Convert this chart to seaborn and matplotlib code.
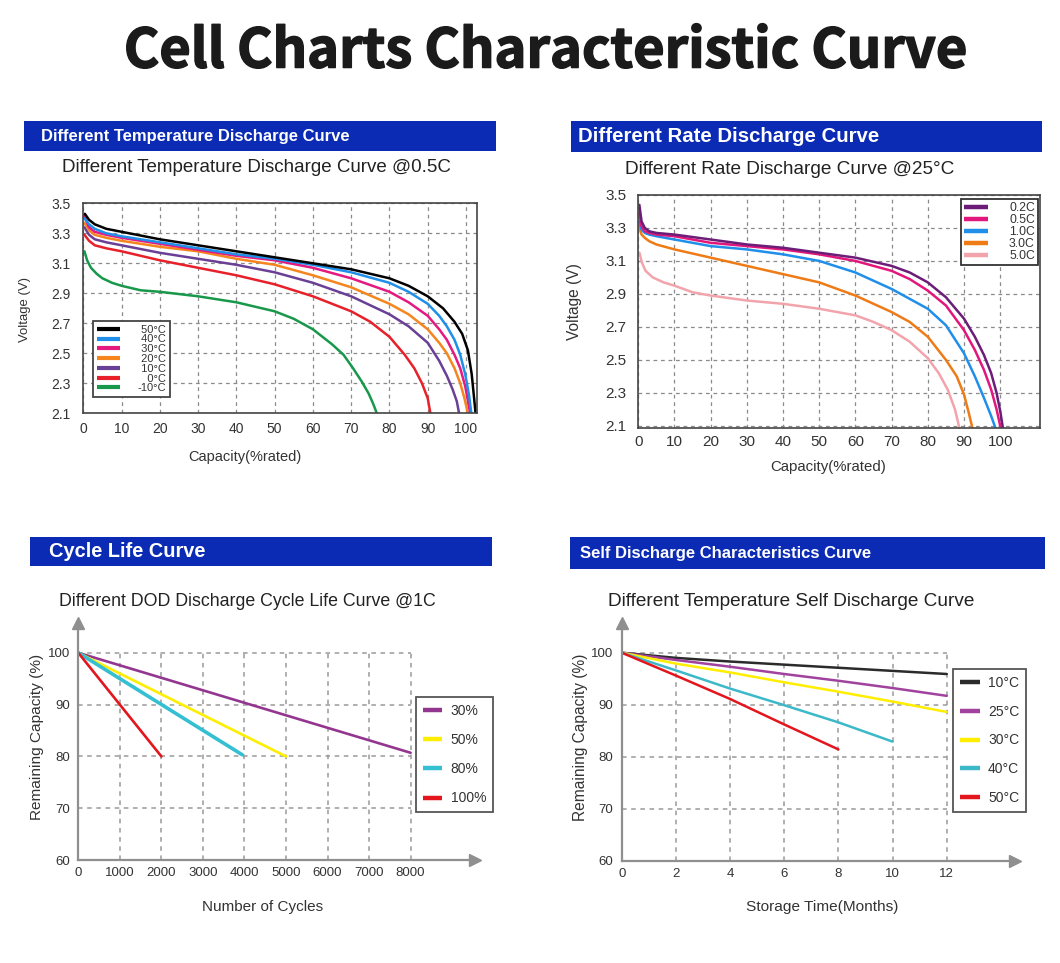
import matplotlib
matplotlib.use("Agg")
import matplotlib.pyplot as plt
import matplotlib.patheffects as pe
import seaborn as sns
from matplotlib.patches import Rectangle
from matplotlib.lines import Line2D

# ------------------------------------------------------------------ data
MAIN_TITLE = "Cell Charts Characteristic Curve"
PANEL_HEADERS = ["Different Temperature Discharge Curve", "Different Rate Discharge Curve",
                 "Cycle Life Curve", "Self Discharge Characteristics Curve"]
PANEL_TITLES = ["Different Temperature Discharge Curve @0.5C", "Different Rate Discharge Curve @25°C",
                "Different DOD Discharge Cycle Life Curve @1C", "Different Temperature Self Discharge Curve"]

# Chart 1: different temperature discharge curve @0.5C  (capacity %, voltage V)
TEMP_LABELS = ["50°C", "40°C", "30°C", "20°C", "10°C", "0°C", "-10°C"]
CAP_50C = [0.4, 1.5, 3, 6, 10, 20, 30, 40, 50, 60, 70, 80, 85, 90, 94, 97, 99, 100.5, 101.5, 102.2, 102.5]
V_50C = [3.43, 3.39, 3.36, 3.33, 3.31, 3.26, 3.22, 3.18, 3.14, 3.10, 3.06, 3.00, 2.95, 2.88, 2.80, 2.71, 2.63, 2.52, 2.36, 2.18, 2.10]
CAP_40C = [0.3, 1.5, 3, 6, 10, 20, 30, 40, 50, 60, 70, 80, 85, 90, 93, 95, 97, 98.5, 99.8, 100.8, 101.4]
V_40C = [3.40, 3.36, 3.33, 3.30, 3.28, 3.24, 3.20, 3.16, 3.13, 3.09, 3.04, 2.97, 2.91, 2.83, 2.75, 2.68, 2.59, 2.49, 2.36, 2.22, 2.10]
CAP_30C = [0.2, 1.5, 3, 6, 10, 20, 30, 40, 50, 60, 70, 80, 85, 90, 93, 95, 97, 98.5, 99.8, 100.6, 101.1]
V_30C = [3.42, 3.34, 3.31, 3.29, 3.27, 3.23, 3.19, 3.15, 3.12, 3.07, 3.00, 2.91, 2.84, 2.75, 2.66, 2.59, 2.49, 2.40, 2.28, 2.17, 2.10]
CAP_20C = [0.3, 1.5, 3, 6, 10, 20, 30, 40, 50, 60, 70, 80, 85, 90, 93, 95, 97, 98.5, 99.6, 100.5]
V_20C = [3.37, 3.32, 3.29, 3.27, 3.25, 3.21, 3.18, 3.13, 3.09, 3.02, 2.94, 2.83, 2.76, 2.66, 2.57, 2.50, 2.40, 2.30, 2.20, 2.10]
CAP_10C = [0.3, 1.5, 3, 6, 10, 20, 30, 40, 50, 60, 70, 80, 85, 90, 93, 95, 96.5, 97.6, 98.2]
V_10C = [3.34, 3.29, 3.26, 3.24, 3.22, 3.17, 3.13, 3.09, 3.04, 2.97, 2.88, 2.76, 2.68, 2.57, 2.45, 2.35, 2.26, 2.18, 2.10]
CAP_0C = [0.3, 1.5, 3, 6, 10, 20, 30, 40, 50, 60, 70, 75, 80, 84, 86.5, 88.5, 90, 90.7]
V_0C = [3.29, 3.25, 3.22, 3.20, 3.18, 3.12, 3.07, 3.02, 2.96, 2.88, 2.78, 2.71, 2.61, 2.49, 2.40, 2.30, 2.20, 2.10]
CAP_M10C = [0.3, 1, 2, 3.5, 5, 7.5, 10, 15, 20, 30, 40, 50, 55, 60, 65, 68, 70.5, 72.8, 74.6, 75.8, 76.7]
V_M10C = [3.18, 3.12, 3.07, 3.03, 3.00, 2.97, 2.95, 2.92, 2.91, 2.88, 2.84, 2.78, 2.73, 2.66, 2.56, 2.49, 2.40, 2.31, 2.23, 2.16, 2.10]
TEMP_XTICKS = [0, 10, 20, 30, 40, 50, 60, 70, 80, 90, 100]
TEMP_YTICKS = [2.1, 2.3, 2.5, 2.7, 2.9, 3.1, 3.3, 3.5]

# Chart 2: different rate discharge curve @25°C
RATE_LABELS = ["0.2C", "0.5C", "1.0C", "3.0C", "5.0C"]
CAP_02C = [0.3, 0.9, 1.8, 3, 5, 10, 20, 30, 40, 50, 60, 70, 75, 80, 85, 90, 93, 95.5, 97.5, 99, 100, 100.8]
V_02C = [3.44, 3.34, 3.30, 3.28, 3.27, 3.26, 3.23, 3.20, 3.18, 3.15, 3.12, 3.07, 3.03, 2.97, 2.88, 2.75, 2.64, 2.53, 2.42, 2.30, 2.19, 2.08]
CAP_05C = [0.2, 0.9, 1.8, 3, 5, 10, 20, 30, 40, 50, 60, 70, 75, 80, 85, 90, 93, 95.5, 97.5, 99, 100.2]
V_05C = [3.39, 3.31, 3.28, 3.27, 3.26, 3.25, 3.21, 3.19, 3.17, 3.14, 3.10, 3.04, 2.99, 2.92, 2.83, 2.68, 2.56, 2.44, 2.32, 2.20, 2.08]
CAP_10C_RATE = [0.2, 0.9, 1.8, 3, 5, 10, 20, 30, 40, 50, 60, 70, 75, 80, 85, 90, 93, 95.5, 97.5, 98.8]
V_10C_RATE = [3.34, 3.29, 3.27, 3.26, 3.25, 3.23, 3.19, 3.17, 3.14, 3.10, 3.03, 2.93, 2.87, 2.81, 2.71, 2.54, 2.40, 2.27, 2.16, 2.08]
CAP_30C_RATE = [0.2, 0.9, 1.8, 3, 5, 10, 20, 30, 40, 50, 60, 70, 75, 80, 85, 88, 90, 91.3, 92.4]
V_30C_RATE = [3.31, 3.26, 3.24, 3.22, 3.20, 3.17, 3.12, 3.07, 3.02, 2.97, 2.89, 2.79, 2.73, 2.64, 2.50, 2.40, 2.29, 2.18, 2.08]
CAP_50C_RATE = [0.3, 1, 2, 4, 7, 10, 15, 20, 30, 40, 50, 60, 65, 70, 75, 80, 83, 85.5, 87.5, 88.8]
V_50C_RATE = [3.15, 3.09, 3.04, 3.00, 2.97, 2.95, 2.91, 2.89, 2.86, 2.84, 2.81, 2.77, 2.73, 2.68, 2.61, 2.51, 2.42, 2.32, 2.20, 2.08]
RATE_XTICKS = [0, 10, 20, 30, 40, 50, 60, 70, 80, 90, 100]
RATE_YTICKS = [2.1, 2.3, 2.5, 2.7, 2.9, 3.1, 3.3, 3.5]

# Chart 3: DOD cycle life curve @1C (cycles, remaining capacity %)
DOD_LABELS = ["30%", "50%", "80%", "100%"]
CYC_30 = [0, 8000]
RC_30 = [100, 80.7]
CYC_50 = [0, 5000]
RC_50 = [100, 80.0]
CYC_80 = [0, 3950]
RC_80 = [100, 80.3]
CYC_100 = [0, 2000]
RC_100 = [100, 80.0]
CYC_XTICKS = [0, 1000, 2000, 3000, 4000, 5000, 6000, 7000, 8000]
CYC_YTICKS = [60, 70, 80, 90, 100]

# Chart 4: self discharge (months, remaining capacity %)
SD_LABELS = ["10°C", "25°C", "30°C", "40°C", "50°C"]
MONTHS_10 = [0, 2, 4, 6, 8, 10, 12]
SD_10 = [100, 99.0, 98.3, 97.7, 97.1, 96.5, 95.9]
MONTHS_25 = [0, 2, 4, 6, 8, 10, 12]
SD_25 = [100, 98.6, 97.3, 95.9, 94.6, 93.2, 91.7]
MONTHS_30 = [0, 2, 4, 6, 8, 10, 12]
SD_30 = [100, 97.9, 96.2, 94.3, 92.5, 90.6, 88.6]
MONTHS_40 = [0, 2, 4, 6, 8, 10]
SD_40 = [100, 96.6, 93.1, 89.9, 86.6, 82.9]
MONTHS_50 = [0, 2, 4, 6, 8]
SD_50 = [100, 95.6, 91.1, 86.2, 81.4]
SD_XTICKS = [0, 2, 4, 6, 8, 10, 12]
SD_YTICKS = [60, 70, 80, 90, 100]

# ------------------------------------------------------------------ style
TEMP_COLORS = ["#000000", "#1F8FEA", "#E5197F", "#F5861E", "#6A3F96", "#E7202A", "#17984A"]
RATE_COLORS = ["#6B1D78", "#E2177C", "#1F8FEA", "#EE7B16", "#F2A4AD"]
DOD_COLORS = ["#93368F", "#FFEE00", "#35BFD2", "#E3161E"]
SD_COLORS = ["#2B2B2B", "#A0429E", "#FFEE00", "#3CB9C9", "#E3161E"]
BAR_BLUE = "#0B2BB5"

W, H = 1060, 963
sns.set_style("white")
plt.rcParams["font.family"] = ["Liberation Sans", "DejaVu Sans"]
plt.rcParams["axes.unicode_minus"] = False

fig = plt.figure(figsize=(W / 100, H / 100), dpi=100)
fig.patch.set_facecolor("white")


def fr(l, t, r, b):
    return [l / W, 1 - b / H, (r - l) / W, (b - t) / H]


def fx(px):
    return px / W


def fy(py):
    return 1 - py / H


fits = []

# main title
t = fig.text(fx(546), fy(67.5), MAIN_TITLE, ha="center", va="baseline", fontsize=36,
             weight="heavy", family=["Noto Sans CJK SC", "DejaVu Sans"], color="#1b1b1b",
             path_effects=[pe.withStroke(linewidth=1.1, foreground="#1b1b1b")])
fits.append((t, 844, "w"))

# header bars
BARS = [(24, 121, 496, 151, 41, 310), (571, 121, 1042, 152, 578, 302),
        (30, 537, 492, 566, 49, 157), (570, 537, 1045, 569, 580, 293)]
for (l, tp, r, b, tx, w), txt in zip(BARS, PANEL_HEADERS):
    fig.add_artist(Rectangle((fx(l), fy(b)), (r - l) / W, (b - tp) / H, transform=fig.transFigure,
                             facecolor=BAR_BLUE, edgecolor="none"))
    tt = fig.text(fx(tx), fy((tp + b) / 2), txt, color="white", weight="bold", fontsize=11,
                  ha="left", va="center")
    fits.append((tt, w, "w"))

# subtitles
SUBS = [(256.7, 167, 387), (790, 170, 330), (247.5, 601, 375), (791, 601, 368)]
for (cx, cy, w), txt in zip(SUBS, PANEL_TITLES):
    tt = fig.text(fx(cx), fy(cy), txt, color="#222222", fontsize=13, ha="center", va="center")
    fits.append((tt, w, "w"))


def place_labels(ax, xl, yl, xpos, ypos, xw, yw, size):
    ax.set_xlabel(xl, fontsize=size, color="#333333")
    ax.set_ylabel(yl, fontsize=size, color="#333333")
    ax.xaxis.set_label_coords(fx(xpos[0]), fy(xpos[1]), transform=fig.transFigure)
    ax.yaxis.set_label_coords(fx(ypos[0]), fy(ypos[1]), transform=fig.transFigure)
    ax.xaxis.label.set_va("center")
    ax.yaxis.label.set_va("center")
    ax.yaxis.label.set_ha("center")
    fits.append((ax.xaxis.label, xw, "w"))
    fits.append((ax.yaxis.label, yw, "h"))


def boxed_axes(ax, xlim, ylim, xticks, yticks, labelsize, xpad, ypad):
    ax.set_xlim(*xlim)
    ax.set_ylim(*ylim)
    ax.set_xticks(xticks)
    ax.set_xticklabels([str(v) for v in xticks])
    ax.set_yticks(yticks)
    ax.set_yticklabels([f"{v:.1f}" for v in yticks])
    ax.set_axisbelow(True)
    ax.grid(True, color="#8a8a8a", linestyle=(0, (3, 3)), linewidth=0.9)
    ax.tick_params(axis="x", length=0, labelsize=labelsize, labelcolor="#333333", pad=xpad)
    ax.tick_params(axis="y", length=0, labelsize=labelsize, labelcolor="#333333", pad=ypad)
    for s in ax.spines.values():
        s.set_visible(True)
        s.set_color("#444444")
        s.set_linewidth(1.2)


def arrow_axes(ax, xlim, ylim, xticks, yticks, labelsize):
    ax.set_xlim(*xlim)
    ax.set_ylim(*ylim)
    ax.hlines(yticks[1:], xticks[0], xticks[-1], colors="#9a9a9a", linestyles=(0, (3, 3)),
              linewidth=1.1, zorder=0.5)
    ax.vlines(xticks[1:], yticks[0], yticks[-1], colors="#9a9a9a", linestyles=(0, (3, 3)),
              linewidth=1.1, zorder=0.5)
    ax.set_xticks(xticks)
    ax.set_xticklabels([str(v) for v in xticks])
    ax.set_yticks(yticks)
    ax.set_yticklabels([str(v) for v in yticks])
    ax.grid(False)
    for s in ["top", "right"]:
        ax.spines[s].set_visible(False)
    for s in ["left", "bottom"]:
        ax.spines[s].set_visible(True)
        ax.spines[s].set_color("#8f8f8f")
        ax.spines[s].set_linewidth(1.6)
    ax.plot(1, 0, ">", transform=ax.transAxes, clip_on=False, color="#8f8f8f", ms=8)
    ax.plot(0, 1, "^", transform=ax.transAxes, clip_on=False, color="#8f8f8f", ms=8)
    ax.tick_params(axis="both", length=0, labelsize=labelsize, labelcolor="#333333", pad=5)
    ax.tick_params(axis="y", pad=6)


def make_legend(ax, labels, colors, anchor, loc, fontsize, lw, spacing, hl, htp, bp, edge):
    handles = [Line2D([0], [0], color=c, lw=lw, solid_capstyle="butt") for c in colors]
    leg = ax.legend(handles, labels, loc=loc, bbox_to_anchor=(fx(anchor[0]), fy(anchor[1])),
                    bbox_transform=fig.transFigure, fontsize=fontsize, frameon=True, fancybox=False,
                    framealpha=1, edgecolor=edge, labelspacing=spacing, handlelength=hl,
                    handletextpad=htp, borderpad=bp, borderaxespad=0)
    leg.get_frame().set_linewidth(1.3)
    for tx in leg.get_texts():
        tx.set_color("#333333")
    return leg


# ---------------------------------------------------------- chart 1
ax1 = fig.add_axes(fr(83.3, 203.3, 476.7, 413.3))
T_CAPS = [CAP_50C, CAP_40C, CAP_30C, CAP_20C, CAP_10C, CAP_0C, CAP_M10C]
T_VS = [V_50C, V_40C, V_30C, V_20C, V_10C, V_0C, V_M10C]
for cap, v, col in list(zip(T_CAPS, T_VS, TEMP_COLORS))[::-1]:
    sns.lineplot(x=cap, y=v, ax=ax1, color=col, linewidth=1.8, estimator=None, sort=False, legend=False)
boxed_axes(ax1, (0, 102.8), (2.1, 3.5), TEMP_XTICKS, TEMP_YTICKS, 10, 6.5, 9)
place_labels(ax1, "Capacity(%rated)", "Voltage (V)", (245, 457), (25, 310), 114, 65, 9)
disp1 = []
for lab in TEMP_LABELS:
    num = lab.replace("°C", "").lstrip("-")
    pad = ("" if lab.startswith("-") else "\u2008") + ("\u2007" if len(num) == 1 else "")
    disp1.append(pad + lab)
make_legend(ax1, disp1, TEMP_COLORS, (93.3, 396.7), "lower left", 8, 3.0, -0.02, 2.1, 1.6, 0.3, "#444444")

# ---------------------------------------------------------- chart 2
ax2 = fig.add_axes(fr(638.3, 195, 1040, 428.3))
R_CAPS = [CAP_02C, CAP_05C, CAP_10C_RATE, CAP_30C_RATE, CAP_50C_RATE]
R_VS = [V_02C, V_05C, V_10C_RATE, V_30C_RATE, V_50C_RATE]
for cap, v, col in list(zip(R_CAPS, R_VS, RATE_COLORS))[::-1]:
    sns.lineplot(x=cap, y=v, ax=ax2, color=col, linewidth=1.8, estimator=None, sort=False, legend=False)
boxed_axes(ax2, (0, 111), (2.085, 3.5), RATE_XTICKS, RATE_YTICKS, 11, 4.5, 8.4)
place_labels(ax2, "Capacity(%rated)", "Voltage (V)", (828, 467), (575, 302), 117, 77, 10)
make_legend(ax2, RATE_LABELS, RATE_COLORS, (1038, 199.3), "upper right", 8.8, 3.2, 0.0, 2.0, 1.7, 0.25, "#333333")

# ---------------------------------------------------------- chart 3
ax3 = fig.add_axes(fr(78.3, 623.3, 475, 860))
arrow_axes(ax3, (0, 9550), (60, 105.7), CYC_XTICKS, CYC_YTICKS, 9.5)
D_X = [CYC_30, CYC_50, CYC_80, CYC_100]
D_Y = [RC_30, RC_50, RC_80, RC_100]
D_LW = [1.9, 1.9, 2.6, 1.9]
for x, y, col, lw in zip(D_X, D_Y, DOD_COLORS, D_LW):
    sns.lineplot(x=x, y=y, ax=ax3, color=col, linewidth=lw, estimator=None, sort=False, legend=False)
ax3.set_xlim(0, 9550)
ax3.set_ylim(60, 105.7)
place_labels(ax3, "Number of Cycles", "Remaining Capacity (%)", (263, 907), (36.7, 737), 122, 167, 10)
make_legend(ax3, DOD_LABELS, DOD_COLORS, (416, 696.7), "upper left", 10, 3.2, 1.1, 1.4, 0.6, 0.5, "#555555")

# ---------------------------------------------------------- chart 4
ax4 = fig.add_axes(fr(621.7, 623.3, 1015, 860.7))
arrow_axes(ax4, (0, 14.52), (60, 105.65), SD_XTICKS, SD_YTICKS, 9.5)
S_X = [MONTHS_10, MONTHS_25, MONTHS_30, MONTHS_40, MONTHS_50]
S_Y = [SD_10, SD_25, SD_30, SD_40, SD_50]
for x, y, col in zip(S_X, S_Y, SD_COLORS):
    sns.lineplot(x=x, y=y, ax=ax4, color=col, linewidth=1.8, estimator=None, sort=False, legend=False)
ax4.set_xlim(0, 14.52)
ax4.set_ylim(60, 105.65)
place_labels(ax4, "Storage Time(Months)", "Remaining Capacity (%)", (822, 907), (580.7, 737), 153, 168, 10)
make_legend(ax4, SD_LABELS, SD_COLORS, (953.3, 669.3), "upper left", 10, 3.2, 1.05, 1.4, 0.6, 0.5, "#555555")

# ---------------------------------------------------------- fit text widths
fig.canvas.draw()
rend = fig.canvas.get_renderer()
for art, target, dim in fits:
    bb = art.get_window_extent(rend)
    cur = bb.width if dim == "w" else bb.height
    if cur > 0:
        art.set_fontsize(art.get_fontsize() * target / cur)

fig.savefig("out.png", dpi=100, facecolor="white")
